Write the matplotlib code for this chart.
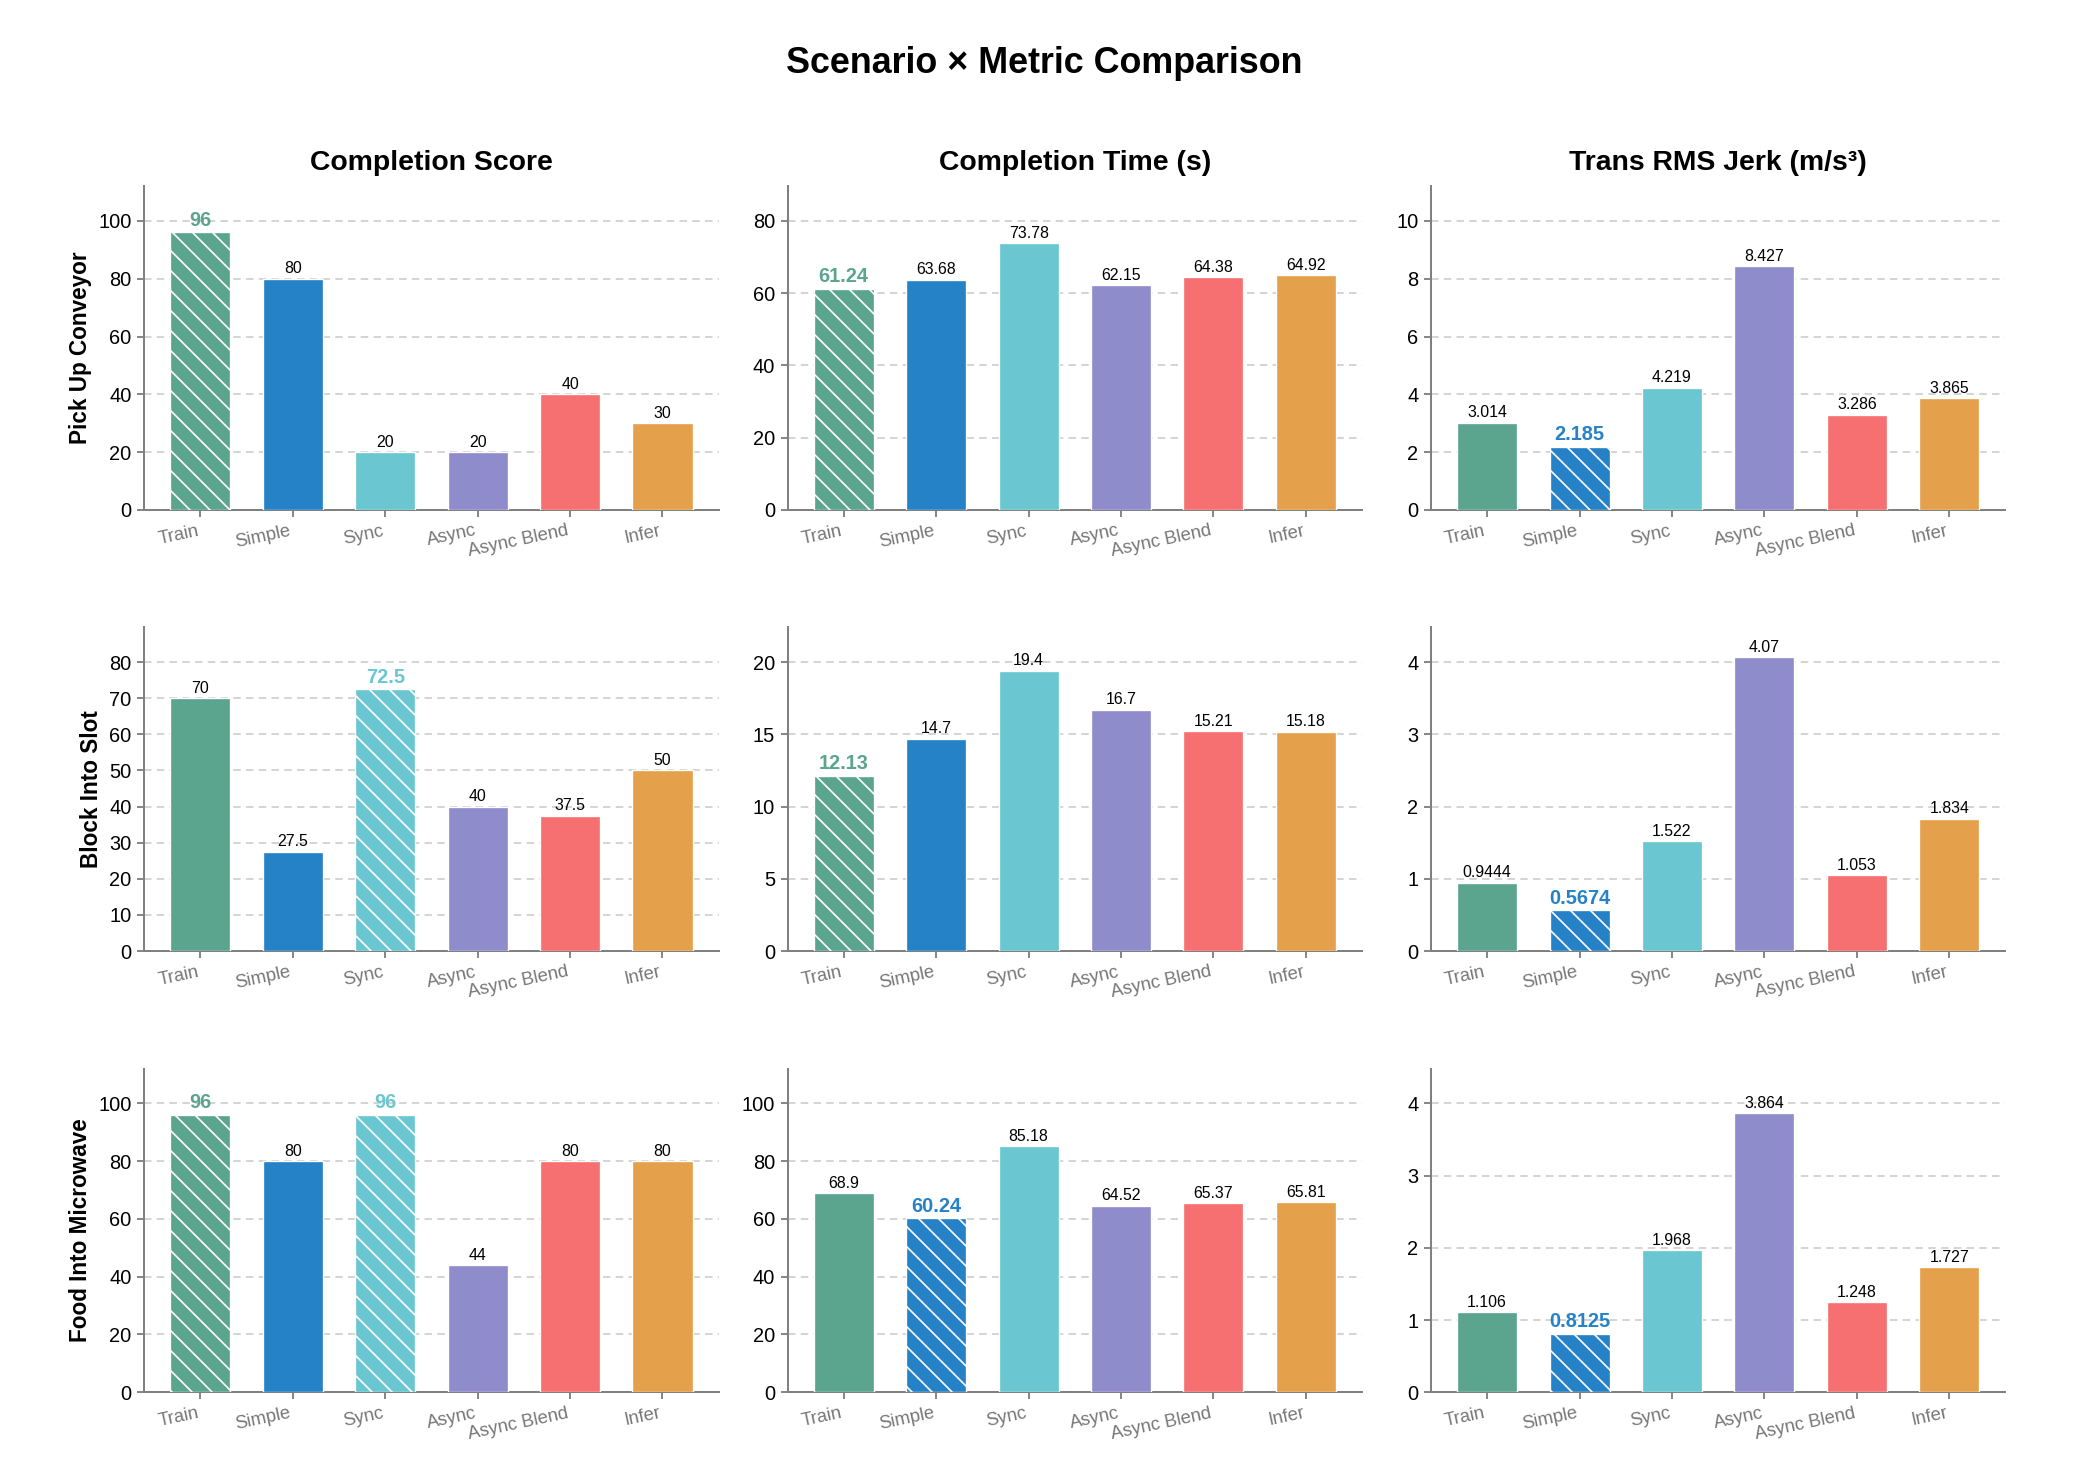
import numpy as np
import matplotlib
matplotlib.use("Agg")
import matplotlib.pyplot as plt
from matplotlib.ticker import MultipleLocator

plt.rcParams['font.family'] = ['Liberation Sans', 'DejaVu Sans']
plt.rcParams['hatch.linewidth'] = 1.0

methods = ["Train", "Simple", "Sync", "Async", "Async Blend", "Infer"]
colors = ["#5BA48E", "#2682C6", "#6AC6D0", "#8F8CCB", "#F67071", "#E4A04A"]

scenarios = ["Pick Up Conveyor", "Block Into Slot", "Food Into Microwave"]
metrics = ["Completion Score", "Completion Time (s)", "Trans RMS Jerk (m/s³)"]
# True -> higher is better
higher_better = [True, False, False]

# completion score per scenario
score_pick = [96, 80, 20, 20, 40, 30]
score_block = [70, 27.5, 72.5, 40, 37.5, 50]
score_food = [96, 80, 96, 44, 80, 80]

# completion time (s)
time_pick = [61.24, 63.68, 73.78, 62.15, 64.38, 64.92]
time_block = [12.13, 14.7, 19.4, 16.7, 15.21, 15.18]
time_food = [68.9, 60.24, 85.18, 64.52, 65.37, 65.81]

# trans rms jerk
jerk_pick = [3.014, 2.185, 4.219, 8.427, 3.286, 3.865]
jerk_block = [0.9444, 0.5674, 1.522, 4.07, 1.053, 1.834]
jerk_food = [1.106, 0.8125, 1.968, 3.864, 1.248, 1.727]

data = [
    [score_pick, time_pick, jerk_pick],
    [score_block, time_block, jerk_block],
    [score_food, time_food, jerk_food],
]

# y axis upper limits and tick steps
ylim_top = [
    [112, 89.6, 11.2],
    [89.6, 22.4, 4.48],
    [112, 112, 4.48],
]
ytick_step = [
    [20, 20, 2],
    [10, 5, 1],
    [20, 20, 1],
]


def fmt(v):
    return "%.4g" % v


fig, axes = plt.subplots(3, 3, figsize=(2089 / 120, 1478 / 120), dpi=120)
fig.subplots_adjust(left=0.069, right=0.960, top=0.874, bottom=0.058,
                    wspace=0.12, hspace=0.363)

x = np.arange(len(methods))
for r in range(3):
    for c in range(3):
        ax = axes[r][c]
        vals = data[r][c]
        if higher_better[c]:
            best = max(vals)
        else:
            best = min(vals)
        bars = ax.bar(x, vals, width=0.65, color=colors, edgecolor='white',
                      linewidth=0.8, zorder=3)
        for i, b in enumerate(bars):
            v = vals[i]
            xc = b.get_x() + b.get_width() / 2
            if v == best:
                b.set_hatch('\\\\')
                ax.annotate(fmt(v), (xc, v), xytext=(0, 1.5),
                            textcoords='offset points', ha='center',
                            va='bottom', fontsize=12, fontweight='bold',
                            color=colors[i], zorder=4)
            else:
                ax.annotate(fmt(v), (xc, v), xytext=(0, 1.5),
                            textcoords='offset points', ha='center',
                            va='bottom', fontsize=9.5, color='black',
                            zorder=4)
        ax.set_ylim(0, ylim_top[r][c])
        ax.yaxis.set_major_locator(MultipleLocator(ytick_step[r][c]))
        ax.set_xticks(x)
        ax.set_xticklabels(methods, rotation=12, ha='right', color='#777777',
                           fontsize=11)
        ax.tick_params(axis='y', labelsize=12, colors='black')
        ax.tick_params(axis='both', color='#888888', length=4, width=1.2)
        ax.grid(axis='y', linestyle=(0, (5, 3.5)), color='#c8c8c8',
                linewidth=0.9, zorder=0)
        ax.set_axisbelow(True)
        for s in ['top', 'right']:
            ax.spines[s].set_visible(False)
        for s in ['left', 'bottom']:
            ax.spines[s].set_color('#808080')
            ax.spines[s].set_linewidth(1.2)
        if r == 0:
            ax.set_title(metrics[c], fontsize=17, fontweight='bold', pad=10)
        if c == 0:
            ax.set_ylabel(scenarios[r], fontsize=13.5, fontweight='bold')

fig.suptitle("Scenario × Metric Comparison", fontsize=21.5, fontweight='bold',
             y=0.969)

fig.savefig("out.png", dpi=120)
